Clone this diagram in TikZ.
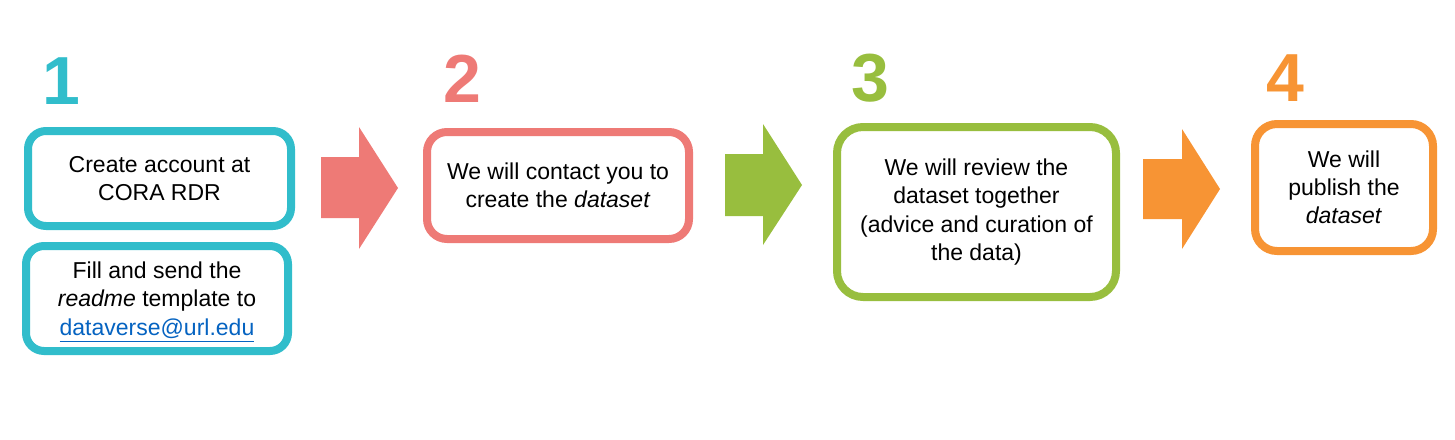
\documentclass[tikz,border=0pt]{standalone}
\usepackage{fontspec}
\setmainfont{Liberation Sans}
\usepackage{xcolor}
\definecolor{myteal}{RGB}{49,189,203}
\definecolor{myred}{RGB}{238,122,118}
\definecolor{mygreen}{RGB}{152,190,62}
\definecolor{myorange}{RGB}{247,148,52}
\definecolor{mylink}{RGB}{5,99,193}
\tikzset{
  stepbox/.style={draw, line width=4pt, fill=white, align=center, inner sep=0pt,
    font=\fontsize{11.5}{14.1}\selectfont},
  stepnum/.style={anchor=base, inner sep=0pt, font=\fontsize{34}{34}\selectfont\bfseries}
}

\begin{document}
\begin{tikzpicture}[x=0.5pt,y=-0.5pt]
\useasboundingbox (0,0) rectangle (1455,439);

% numbers
\node[stepnum, color=myteal] (num1) at (61,104) {1};
\node[stepnum, color=myred] (num2) at (462,102) {2};
\node[stepnum, color=mygreen] (num3) at (870,101) {3};
\node[stepnum, color=myorange] (num4) at (1285,101) {4};

% boxes
\node[stepbox, draw=myteal, rounded corners=9pt, minimum width=131.5pt, minimum height=47.5pt]
  (account) at (159.5,178.5) {Create account at\\CORA RDR};
\node[stepbox, draw=myteal, rounded corners=9pt, minimum width=131pt, minimum height=52.5pt]
  (readme) at (157,298.5) {Fill and send the\\\textit{readme} template to\\\raisebox{0pt}[\height][0pt]{\textcolor{mylink}{\underline{dataverse@url.edu}}}};
\node[stepbox, draw=myred, rounded corners=10pt, minimum width=131pt, minimum height=53.5pt]
  (contact) at (558,185.5) {We will contact you to\\create the \textit{dataset}};
\node[stepbox, draw=mygreen, rounded corners=13pt, minimum width=139.5pt, minimum height=85pt]
  (review) at (976.5,212) {We will review the\\dataset together\\(advice and curation of\\the data)};
\node[stepbox, draw=myorange, rounded corners=11pt, minimum width=89pt, minimum height=63.5pt]
  (publish) at (1344,187.5) {We will\\publish the\\\textit{dataset}};

% block arrows
\fill[myred] (321,157) -- (359,157) -- (359,127) -- (398,188) -- (359,249) -- (359,218) -- (321,218) -- cycle;
\fill[mygreen] (725,154) -- (763,154) -- (763,124) -- (802,185) -- (763,245) -- (763,216) -- (725,216) -- cycle;
\fill[myorange] (1143,159) -- (1182,159) -- (1182,129) -- (1220,189) -- (1182,249) -- (1182,219) -- (1143,219) -- cycle;

\end{tikzpicture}
\end{document}
